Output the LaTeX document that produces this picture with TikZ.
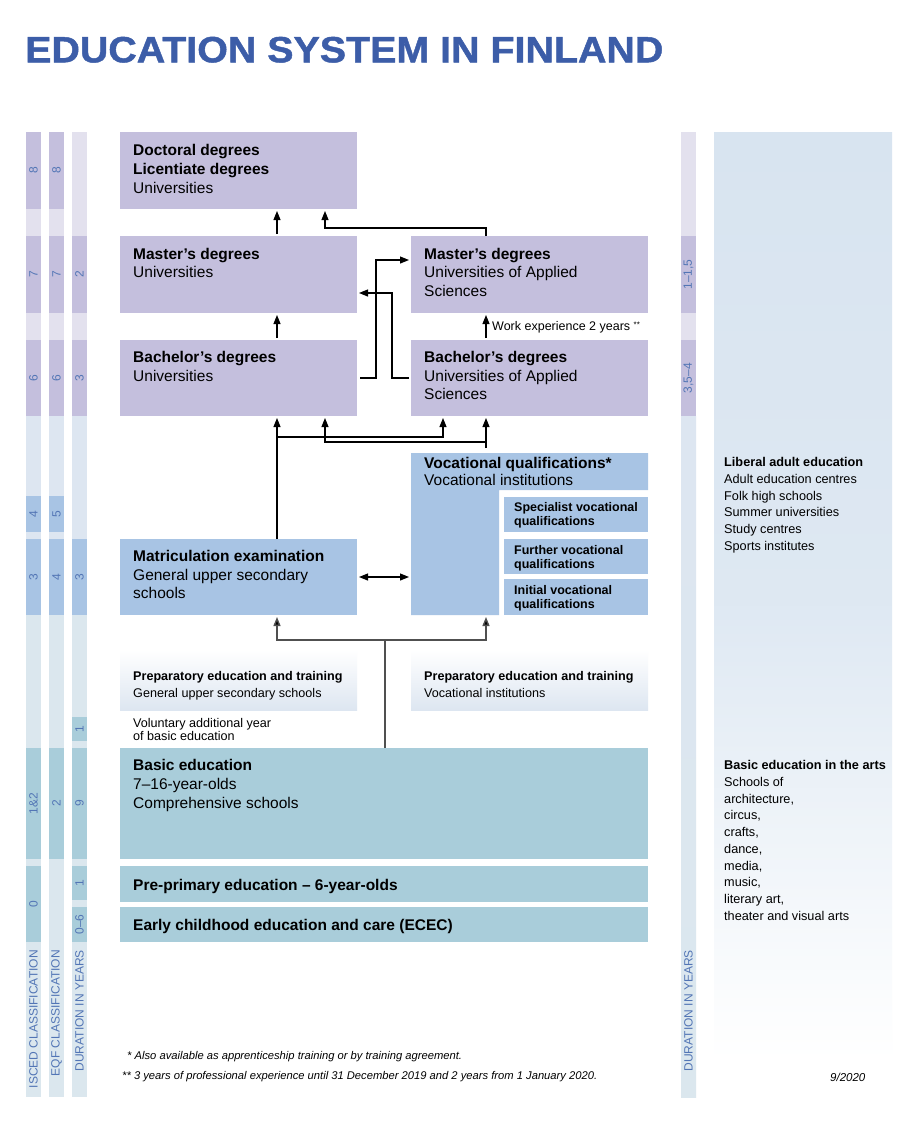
\documentclass[tikz,border=0pt]{standalone}
\usepackage{graphicx}
\usepackage{fontspec}
\setmainfont{Liberation Sans}
\newfontfamily\titlefont{Liberation Sans}[BoldFeatures={FakeBold=1.2}]
\usetikzlibrary{arrows.meta}
\definecolor{ttlc}{HTML}{3C5DA8}
\definecolor{purp}{HTML}{C4BFDD}
\definecolor{purpl}{HTML}{E3E1EE}
\definecolor{blu}{HTML}{A8C4E4}
\definecolor{blul}{HTML}{DDE6F1}
\definecolor{tealc}{HTML}{A9CDDA}
\definecolor{teall}{HTML}{DBE7EE}
\definecolor{numc}{HTML}{5275B5}
\definecolor{panelc}{HTML}{D8E4F0}
\definecolor{linec}{HTML}{505050}
\newcommand\colseg[4]{\fill[#4] (#1,#2) rectangle (#1+15,#3);}
\newcommand\colsegn[6]{\fill[#5] (#2,#3) rectangle (#2+15,#4); \node[numtxt] (#1) at (#2+7.5,{(#3+#4)/2}) {#6};}
\tikzset{
  box/.style={rectangle, draw=none, inner sep=0pt, outer sep=0pt, anchor=north west},
  btxt/.style={anchor=north west, inner sep=0pt, align=left, font=\fontsize{15.5}{18.7}\selectfont},
  stxt/.style={anchor=north west, inner sep=0pt, align=left, font=\fontsize{12.5}{14.3}\selectfont\bfseries},
  ptxt/.style={anchor=north west, inner sep=0pt, align=left, font=\fontsize{12.6}{16.6}\selectfont},
  rtxt/.style={anchor=north west, inner sep=0pt, align=left, font=\fontsize{12.7}{16.7}\selectfont},
  numtxt/.style={rotate=90, inner sep=0pt, text=numc, font=\fontsize{12}{12}\selectfont},
  clab/.style={rotate=90, anchor=east, inner sep=0pt, text=numc, font=\fontsize{12}{12}\selectfont},
  tip/.tip={Triangle[length=9pt,width=7pt]},
  arr/.style={draw=black, line width=1.1pt, -tip, shorten >=2pt},
  darr/.style={draw=black, line width=1.1pt, tip-tip, shorten >=2pt, shorten <=2pt},
  gline/.style={draw=linec, line width=1.4pt},
  garr/.style={draw=linec, line width=1.4pt, -{Triangle[length=9pt,width=7pt,fill=black]}, shorten >=2pt},
  fnote/.style={anchor=west, inner sep=0pt, font=\fontsize{11.2}{12}\selectfont\itshape},
}
\begin{document}
\begin{tikzpicture}[x=1pt,y=-1pt]
\useasboundingbox (0,0) rectangle (915,1122);
\fill[white] (0,0) rectangle (915,1122);

% title
\node[anchor=base west, inner sep=0pt, text=ttlc] (title) at (25,62.3)
  {\resizebox{638pt}{25.5pt}{\titlefont\bfseries EDUCATION SYSTEM IN FINLAND}};

% ---- left columns ----
% ISCED
\colsegn{i8}{26}{132}{209}{purp}{8}
\colseg{26}{209}{236}{purpl}
\colsegn{i7}{26}{236}{313}{purp}{7}
\colseg{26}{313}{340}{purpl}
\colsegn{i6}{26}{340}{416}{purp}{6}
\colseg{26}{416}{496}{blul}
\colsegn{i4}{26}{496}{532}{blu}{4}
\colseg{26}{532}{539}{blul}
\colsegn{i3}{26}{539}{615}{blu}{3}
\colseg{26}{615}{748}{teall}
\colsegn{i12}{26}{748}{859}{tealc}{1\&2}
\colseg{26}{859}{866}{teall}
\colsegn{i0}{26}{866}{942}{tealc}{0}
\colseg{26}{942}{1097}{teall}
\node[clab] (isced) at (33.5,950) {ISCED CLASSIFICATION};
% EQF
\colsegn{e8}{49}{132}{209}{purp}{8}
\colseg{49}{209}{236}{purpl}
\colsegn{e7}{49}{236}{313}{purp}{7}
\colseg{49}{313}{340}{purpl}
\colsegn{e6}{49}{340}{416}{purp}{6}
\colseg{49}{416}{496}{blul}
\colsegn{e5}{49}{496}{532}{blu}{5}
\colseg{49}{532}{539}{blul}
\colsegn{e4}{49}{539}{615}{blu}{4}
\colseg{49}{615}{748}{teall}
\colsegn{e2}{49}{748}{859}{tealc}{2}
\colseg{49}{859}{1097}{teall}
\node[clab] (eqf) at (56.5,950) {EQF CLASSIFICATION};
% Duration
\colseg{72}{132}{236}{purpl}
\colsegn{d2}{72}{236}{313}{purp}{2}
\colseg{72}{313}{340}{purpl}
\colsegn{d3}{72}{340}{416}{purp}{3}
\colseg{72}{416}{539}{blul}
\colsegn{d3b}{72}{539}{615}{blu}{3}
\colseg{72}{615}{717}{teall}
\colsegn{d1}{72}{717}{741}{tealc}{1}
\colseg{72}{741}{748}{teall}
\colsegn{d9}{72}{748}{859}{tealc}{9}
\colseg{72}{859}{866}{teall}
\colsegn{d1b}{72}{866}{900}{tealc}{1}
\colseg{72}{900}{907}{teall}
\colsegn{d06}{72}{907}{942}{tealc}{0--6}
\colseg{72}{942}{1097}{teall}
\node[clab] (dur) at (79.5,950) {DURATION IN YEARS};

% ---- right column ----
\colseg{681}{132}{236}{purpl}
\colsegn{r1}{681}{236}{313}{purp}{1--1,5}
\colseg{681}{313}{340}{purpl}
\colsegn{r2}{681}{340}{416}{purp}{3,5--4}
\shade[top color=blul, bottom color=teall] (681,416) rectangle (696,1097);
\node[clab] (durr) at (688.5,950) {DURATION IN YEARS};

% right panel
\shade[top color=panelc, bottom color=white, middle color=panelc!85!white] (714,132) rectangle (892,1060);
\node[rtxt] (lib) at (724,457.4) {\textbf{Liberal adult education}\\Adult education centres\\Folk high schools\\Summer universities\\Study centres\\Sports institutes};
\node[rtxt] (arts) at (724,760.4) {\textbf{Basic education in the arts}\\Schools of\\architecture,\\circus,\\crafts,\\dance,\\media,\\music,\\literary art,\\theater and visual arts};

% ---- boxes ----
\node[box, fill=purp, minimum width=237pt, minimum height=77pt] (doc) at (120,132) {};
\node[box, fill=purp, minimum width=237pt, minimum height=77pt] (mu) at (120,236) {};
\node[box, fill=purp, minimum width=237pt, minimum height=77pt] (mua) at (411,236) {};
\node[box, fill=purp, minimum width=237pt, minimum height=76pt] (bu) at (120,340) {};
\node[box, fill=purp, minimum width=237pt, minimum height=76pt] (bua) at (411,340) {};
\fill[blu] (411,453) -- (648,453) -- (648,490) -- (499,490) -- (499,615) -- (411,615) -- cycle;
\node[box, minimum width=237pt, minimum height=162pt] (voc) at (411,453) {};
\node[box, fill=blu, minimum width=144pt, minimum height=35pt] (spec) at (504,497) {};
\node[box, fill=blu, minimum width=144pt, minimum height=35pt] (fur) at (504,539) {};
\node[box, fill=blu, minimum width=144pt, minimum height=36pt] (ini) at (504,579) {};
\node[box, fill=blu, minimum width=237pt, minimum height=76pt] (mat) at (120,539) {};
\node[box, top color=white, bottom color=blul, minimum width=237pt, minimum height=60pt] (prg) at (120,650) {};
\node[box, top color=white, bottom color=blul, minimum width=237pt, minimum height=60pt] (prv) at (411,650) {};
\node[box, fill=tealc, minimum width=528pt, minimum height=111pt] (be) at (120,748) {};
\node[box, fill=tealc, minimum width=528pt, minimum height=36pt] (pp) at (120,866) {};
\node[box, fill=tealc, minimum width=528pt, minimum height=35pt] (ecec) at (120,907) {};

% ---- texts ----
\node[btxt] (doct) at (133,144.3) {\textbf{Doctoral degrees}\\\textbf{Licentiate degrees}\\Universities};
\node[btxt] (mut) at (133,247.6) {\textbf{Master’s degrees}\\Universities};
\node[btxt] (muat) at (424,247.6) {\textbf{Master’s degrees}\\Universities of Applied\\Sciences};
\node[btxt] (but) at (133,351) {\textbf{Bachelor’s degrees}\\Universities};
\node[btxt] (buat) at (424,351) {\textbf{Bachelor’s degrees}\\Universities of Applied\\Sciences};
\node[btxt, font=\fontsize{15.5}{17}\selectfont] (voct) at (424,457.3) {\textbf{Vocational qualifications*}\\Vocational institutions};
\node[stxt] (spect) at (514,502.1) {Specialist vocational\\qualifications};
\node[stxt] (furt) at (514,545.4) {Further vocational\\qualifications};
\node[stxt] (init) at (514,585.4) {Initial vocational\\qualifications};
\node[btxt] (matt) at (133,550) {\textbf{Matriculation examination}\\General upper secondary\\schools};
\node[ptxt] (prgt) at (133,671.1) {\textbf{Preparatory education and training}\\General upper secondary schools};
\node[ptxt] (prvt) at (424,671.1) {\textbf{Preparatory education and training}\\Vocational institutions};
\node[ptxt, font=\fontsize{12.6}{13.2}\selectfont] (volt) at (133,718.4) {Voluntary additional year\\of basic education};
\node[btxt] (bet) at (133,759.3) {\textbf{Basic education}\\7--16-year-olds\\Comprehensive schools};
\node[btxt] (ppt) at (133,879.3) {\textbf{Pre-primary education – 6-year-olds}};
\node[btxt] (ecect) at (133,919.3) {\textbf{Early childhood education and care (ECEC)}};

% ---- connectors ----
\coordinate (xa) at (277,0);
\coordinate (xb) at (325,0);
\coordinate (xc) at (443,0);
\coordinate (xd) at (486,0);
\coordinate (xe) at (385,0);
\coordinate (b2) at (486,228);
\coordinate (b3) at (376,260);
\coordinate (b4) at (392,293);
\coordinate (b7) at (277,437);
\coordinate (b8) at (486,442);
\coordinate (b10) at (385,640);

\draw[arr, shorten <=2pt] (xa |- mu.north) -- (xa |- doc.south);
\draw[arr] (xd |- mua.north) -- (b2) -| (xb |- doc.south);
\draw[arr, shorten <=3pt] (bu.east) -| (b3) -- (b3 -| mua.west);
\draw[arr, shorten <=2pt] (bua.west) -| (b4) -- (b4 -| mu.east);
\draw[arr, shorten <=2pt] (xa |- bu.north) -- (xa |- mu.south);
\draw[arr, shorten <=2pt] (xd |- bua.north) -- (xd |- mua.south);
\node[anchor=west, inner sep=0pt, font=\fontsize{12.5}{12.5}\selectfont] (work) at (492,327)
  {Work experience 2 years {\fontsize{8}{8}\selectfont\raisebox{3pt}{**}}};
\draw[arr] (xa |- mat.north) -- (xa |- bu.south);
\draw[arr] (b7) -| (xc |- bua.south);
\draw[arr, shorten <=5pt] (xd |- voc.north) -- (xd |- bua.south);
\draw[arr] (b8) -| (xb |- bu.south);
\draw[darr] (mat.east) -- (mat.east -| voc.west);
\draw[gline] (xe |- be.north) -- (b10);
\draw[garr] (b10) -| (xa |- mat.south);
\draw[garr] (b10) -| (xd |- voc.south);

% ---- footnotes ----
\node[fnote] (fn1) at (127,1056.7) {* Also available as apprenticeship training or by training agreement.};
\node[fnote] (fn2) at (122,1076.7) {** 3 years of professional experience until 31 December 2019 and 2 years from 1 January 2020.};
\node[fnote, font=\fontsize{11.5}{12}\selectfont\itshape] (date) at (830,1077) {9/2020};
\end{tikzpicture}
\end{document}
